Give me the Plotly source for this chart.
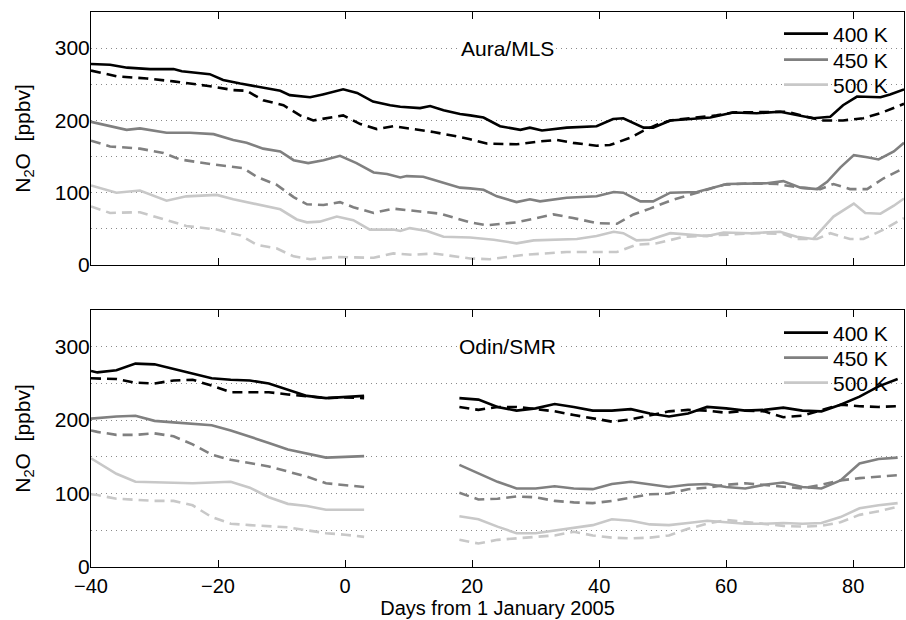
import plotly.graph_objects as go
from plotly.subplots import make_subplots

# ---------------- Aura/MLS (top panel) ----------------
mls_400_solid_days = [-40, -37, -34.3, -30.7, -27, -25.7, -21.3, -19.2, -16.5, -13.9, -10.2, -8.7, -5.5, -3.5, -0.3, 1.9, 4.4, 7.1, 8.7, 11.8, 13.4, 15.5, 18.1, 19.7, 21.8, 24.4, 27.6, 29.1, 31, 34.9, 39.6, 42.2, 43.8, 47, 48.5, 51.2, 54.3, 57.5, 61.1, 64.8, 68.5, 71.7, 73.7, 76.4, 78.4, 80.6, 82.7, 84.3, 85.8, 88]
mls_400_solid = [278, 277, 273, 271, 271, 268, 264, 256, 251, 247, 241, 235, 232, 236, 243, 238, 226, 221, 219, 217, 220, 214, 209, 207, 204, 192, 187, 190, 186, 190, 192, 202, 203, 190, 190, 200, 202, 204, 211, 210, 212, 207, 203, 205, 221, 233, 233, 232, 236, 243]

mls_400_dash_days = [-40, -36, -31.2, -27, -21.8, -17.6, -15.5, -12.9, -9.7, -7.1, -5, -2.9, -0.3, 2.4, 5, 7.6, 11.3, 13.9, 18.1, 19.7, 22.3, 27, 30.7, 33.3, 35.9, 39.6, 41.7, 44.9, 47, 49.1, 51.2, 55.4, 58.5, 61, 66.9, 69.6, 72.2, 75.3, 78.4, 81.6, 84.3, 88]
mls_400_dash = [269, 261, 258, 254, 248, 242, 241, 228, 221, 207, 200, 203, 207, 195, 188, 192, 187, 184, 177, 174, 168, 167, 171, 173, 169, 165, 166, 176, 186, 194, 200, 204, 207, 211, 211, 212, 206, 200, 200, 203, 210, 223]

mls_450_solid_days = [-40, -37, -34.4, -32.3, -28.1, -24.4, -20.7, -17.6, -15.5, -12.9, -10.2, -8.1, -5.8, -3.4, -0.8, 1.8, 4.5, 6.6, 8.7, 9.7, 12.3, 13.9, 18.1, 19.7, 21.8, 23.9, 27, 29.1, 30.7, 34.9, 39.6, 42.3, 43.8, 46.5, 48.5, 51.2, 55.4, 60.1, 63.8, 66.4, 69, 71.7, 74.3, 75.9, 78, 80.1, 82.2, 84, 86.4, 88]
mls_450_solid = [198, 192, 187, 189, 183, 183, 181, 173, 169, 161, 157, 145, 141, 145, 151, 141, 128, 126, 121, 123, 122, 118, 107, 106, 104, 95, 87, 91, 88, 93, 95, 101, 100, 88, 88, 100, 101, 112, 113, 113, 116, 107, 105, 115, 135, 152, 149, 146, 157, 169]

mls_450_dash_days = [-40, -37, -32.3, -28.6, -26, -20.7, -16, -13.9, -10.8, -8.1, -6, -3.4, -0.8, 1.3, 4.5, 7.6, 11.8, 15, 18.1, 19.7, 22.3, 27, 30.2, 32.8, 35.9, 39.6, 42.8, 45.4, 48, 51.2, 55.4, 59.6, 63.8, 68, 71.7, 74.8, 76.9, 79.5, 82.2, 84.8, 88]
mls_450_dash = [172, 164, 161, 155, 146, 139, 134, 122, 111, 94, 84, 83, 87, 80, 72, 78, 74, 71, 63, 59, 55, 59, 65, 70, 65, 58, 57, 70, 78, 89, 100, 111, 113, 112, 107, 105, 112, 105, 105, 120, 134]

mls_500_solid_days = [-40, -36, -32.3, -28.1, -25, -20.2, -17.6, -15, -10.2, -7.6, -6, -4, -1.3, 1.3, 3.9, 7.6, 8.7, 10.2, 12.9, 15.5, 18.1, 19.7, 23.4, 27, 29.7, 36.5, 39.6, 42.3, 43.8, 45.9, 48, 51.2, 57, 59.6, 63.8, 68.5, 71.1, 73.7, 76.9, 80.1, 81.9, 84.3, 86.4, 88]
mls_500_solid = [110, 100, 103, 89, 95, 97, 91, 86, 77, 63, 59, 60, 67, 62, 49, 49, 47, 51, 47, 39, 39, 38, 35, 30, 34, 36, 40, 46, 44, 34, 35, 44, 40, 45, 44, 46, 39, 36, 67, 85, 72, 71, 82, 92]

mls_500_dash_days = [-40, -37, -32.3, -28.1, -25, -20.2, -16.5, -13.9, -10.8, -8.1, -5.5, -1.8, 1.3, 4.5, 7.6, 10.7, 13.9, 18.1, 19.7, 22.8, 28.1, 34.9, 42.8, 45.9, 49.1, 53.3, 58.5, 64.8, 69, 71.1, 74.3, 76.4, 79.5, 81.6, 84.8, 88]
mls_500_dash = [81, 72, 73, 62, 54, 49, 41, 28, 23, 12, 8, 11, 10, 10, 16, 14, 16, 11, 9, 8, 14, 18, 18, 28, 30, 39, 41, 44, 43, 36, 36, 44, 36, 36, 49, 65]

# ---------------- Odin/SMR (bottom panel) ----------------
smr_days_a = [-40, -39, -36, -33, -30, -27, -24, -21, -18, -15, -12, -9, -6, -3, 0, 3]
smr_days_b = [18, 21, 24, 27, 30, 33, 36, 39, 42, 45, 48, 51, 54, 57, 60, 63, 66, 69, 72, 75, 78, 81, 84, 87]

smr_400_solid_a = [267, 265, 268, 277, 276, 270, 263, 257, 255, 254, 250, 241, 233, 230, 232, 233]
smr_400_solid_b = [230, 228, 218, 213, 216, 222, 218, 213, 213, 215, 209, 205, 209, 218, 216, 213, 214, 217, 213, 212, 221, 232, 246, 256]
smr_400_dash_a = [257, 257, 256, 251, 250, 254, 255, 247, 238, 238, 238, 235, 232, 230, 231, 230]
smr_400_dash_b = [218, 214, 218, 218, 215, 212, 207, 203, 198, 201, 207, 212, 214, 213, 210, 213, 212, 204, 206, 214, 221, 219, 218, 219]

smr_450_solid_a = [202, 203, 205, 206, 199, 197, 195, 193, 186, 178, 169, 160, 154, 149, 150, 151]
smr_450_solid_b = [139, 128, 116, 107, 107, 110, 107, 106, 113, 116, 113, 109, 112, 113, 109, 107, 112, 115, 109, 107, 118, 141, 147, 149]
smr_450_dash_a = [186, 184, 180, 180, 182, 178, 167, 153, 146, 142, 137, 130, 123, 114, 111, 109]
smr_450_dash_b = [101, 92, 93, 96, 95, 90, 88, 87, 90, 94, 99, 100, 106, 108, 112, 114, 112, 109, 107, 112, 118, 121, 123, 125]

smr_500_solid_a = [148, 143, 127, 116, 115, 115, 114, 115, 116, 108, 95, 86, 83, 78, 78, 78]
smr_500_solid_b = [69, 65, 55, 46, 46, 50, 53, 57, 65, 63, 58, 57, 60, 63, 61, 59, 59, 60, 59, 60, 68, 80, 84, 87]
smr_500_dash_a = [99, 98, 93, 91, 90, 90, 84, 68, 59, 57, 56, 54, 50, 46, 44, 41]
smr_500_dash_b = [37, 32, 37, 39, 40, 43, 48, 43, 40, 39, 40, 43, 52, 59, 64, 61, 58, 56, 55, 56, 61, 71, 76, 82]

levels = ["400 K", "450 K", "500 K"]
colors = ["#000000", "#808080", "#c8c8c8"]
x_ticks = [-40, -20, 0, 20, 40, 60, 80]
y_ticks = [0, 100, 200, 300]

FONT = "Liberation Sans, Arial, Helvetica, sans-serif"
LW = 2.6
DASH = "10px,6px"

H, W = 620, 906
ml, mr, mt, mb = 91, 2, 12, 53
ph = H - mt - mb
pw = W - ml - mr

def px_x(px):
    return (px - ml) / pw

def px_y(py):
    return (H - mb - py) / ph

# legend ids per panel / level, with target pixel rows for each entry
top_legends = ["legend", "legend2", "legend3"]
bot_legends = ["legend4", "legend5", "legend6"]
top_rows = [34, 60, 85]
bot_rows = [333, 358, 383]

fig = make_subplots(rows=2, cols=1, shared_xaxes=False, vertical_spacing=0.0)

mls = [
    (mls_400_solid_days, mls_400_solid, mls_400_dash_days, mls_400_dash),
    (mls_450_solid_days, mls_450_solid, mls_450_dash_days, mls_450_dash),
    (mls_500_solid_days, mls_500_solid, mls_500_dash_days, mls_500_dash),
]
for i, (xs, ys, xd, yd) in enumerate(mls):
    fig.add_trace(go.Scatter(x=xd, y=yd, mode="lines", showlegend=False,
                             line=dict(color=colors[i], width=LW, dash=DASH)), row=1, col=1)
for i, (xs, ys, xd, yd) in enumerate(mls):
    fig.add_trace(go.Scatter(x=xs, y=ys, mode="lines", name=levels[i], legend=top_legends[i],
                             line=dict(color=colors[i], width=LW)), row=1, col=1)

smr = [
    (smr_400_solid_a, smr_400_solid_b, smr_400_dash_a, smr_400_dash_b),
    (smr_450_solid_a, smr_450_solid_b, smr_450_dash_a, smr_450_dash_b),
    (smr_500_solid_a, smr_500_solid_b, smr_500_dash_a, smr_500_dash_b),
]
smr_x = smr_days_a + [None] + smr_days_b
for i, (sa, sb, da, db) in enumerate(smr):
    fig.add_trace(go.Scatter(x=smr_x, y=da + [None] + db, mode="lines", showlegend=False,
                             connectgaps=False,
                             line=dict(color=colors[i], width=LW, dash=DASH)), row=2, col=1)
for i, (sa, sb, da, db) in enumerate(smr):
    fig.add_trace(go.Scatter(x=smr_x, y=sa + [None] + sb, mode="lines", name=levels[i],
                             legend=bot_legends[i], connectgaps=False,
                             line=dict(color=colors[i], width=LW)), row=2, col=1)

top_dom = [px_y(265), 1.0]
bot_dom = [0.0, px_y(310)]

xcommon = dict(range=[-40, 88], tickvals=x_ticks, ticks="inside", ticklen=7, tickcolor="black",
               showline=True, linecolor="black", linewidth=1, mirror="ticks", showgrid=False,
               zeroline=False, automargin=False, ticklabelstandoff=1,
               tickfont=dict(size=20, color="black", family=FONT))
ycommon = dict(range=[0, 350], tickvals=y_ticks, ticks="", showline=True, linecolor="black",
               linewidth=1, mirror=True, showgrid=True, gridcolor="#8a8a8a", gridwidth=1,
               griddash="1px,4px", zeroline=False, automargin=False, ticklabelstandoff=-4,
               minor=dict(tickvals=[50, 150, 250], showgrid=True, gridcolor="#8a8a8a",
                          gridwidth=1, griddash="1px,4px"),
               tickfont=dict(size=21, color="black", family=FONT),
               title=dict(text="N<sub>2</sub>O  [ppbv]", font=dict(size=21, color="black", family=FONT),
                          standoff=18))

fig.update_xaxes(**xcommon)
fig.update_yaxes(**ycommon)
fig.update_xaxes(showticklabels=False, row=1, col=1)
fig.update_xaxes(title=dict(text="Days from 1 January 2005", font=dict(size=20, color="black", family=FONT),
                            standoff=0), row=2, col=1)
fig.update_layout(yaxis=dict(domain=top_dom), yaxis2=dict(domain=bot_dom))

fig.add_annotation(x=25.5, y=300, xref="x", yref="y", text="Aura/MLS", showarrow=False,
                   font=dict(size=21, color="black", family=FONT), bgcolor="white")
fig.add_annotation(x=25.5, y=300, xref="x2", yref="y2", text="Odin/SMR", showarrow=False,
                   font=dict(size=21, color="black", family=FONT), bgcolor="white")

leg = dict(font=dict(size=21, color="black", family=FONT), bgcolor="rgba(0,0,0,0)",
           borderwidth=0, xanchor="left", yanchor="middle", itemwidth=44)
legend_x = px_x(779)
lay = {}
for name, row in zip(top_legends + bot_legends, top_rows + bot_rows):
    lay[name] = dict(x=legend_x, y=px_y(row), **leg)
fig.update_layout(**lay)

fig.update_layout(width=W, height=H, margin=dict(l=ml, r=mr, t=mt, b=mb, autoexpand=False),
                  paper_bgcolor="white", plot_bgcolor="white",
                  font=dict(family=FONT, color="black", size=21))

fig.write_html("out.html", config={"displayModeBar": False},
               post_script="document.body.style.margin='0px';document.body.style.overflow='hidden';")
